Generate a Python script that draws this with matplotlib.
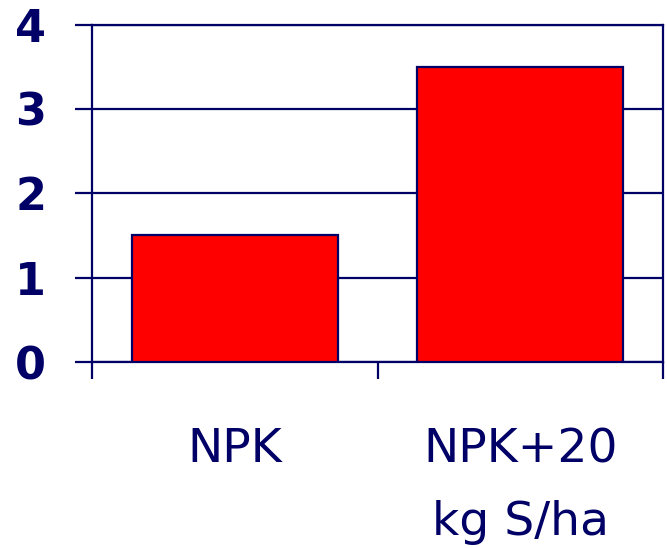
import matplotlib
matplotlib.use("Agg")
import matplotlib.pyplot as plt

categories = ["NPK", "NPK+20\nkg S/ha"]
values = [1.5, 3.5]
yticks = [0, 1, 2, 3, 4]

navy = "#000066"
fig = plt.figure(figsize=(6.67, 5.48), dpi=100)
ax = fig.add_axes([92/667, 1-362/548, (663-92)/667, (362-24.5)/548])

x = list(range(len(categories)))
ax.bar(x, values, width=0.72, color="#FF0000", edgecolor=navy, linewidth=1.6, zorder=3)

ax.set_xlim(-0.5, len(categories)-0.5)
ax.set_ylim(0, 4)
ax.set_yticks(yticks)
ax.set_yticklabels([str(v) for v in yticks], fontsize=32, fontweight="bold", color=navy,
                   family="DejaVu Sans")
ax.yaxis.grid(True, color=navy, linewidth=1.6, zorder=1)
ax.tick_params(axis="y", direction="out", length=12, width=1.6, color=navy, pad=21)

ax.set_xticks(x)
ax.set_xticklabels(categories, fontsize=34, color=navy, linespacing=1.8,
                   family="DejaVu Sans", va="top")
ax.tick_params(axis="x", which="major", length=0, pad=47)
ax.set_xticks([-0.5, 0.5, 1.5], minor=True)
ax.tick_params(axis="x", which="minor", direction="out", length=12, width=1.6, color=navy)

for s in ax.spines.values():
    s.set_color(navy)
    s.set_linewidth(1.6)

fig.savefig("out.png", dpi=100)
